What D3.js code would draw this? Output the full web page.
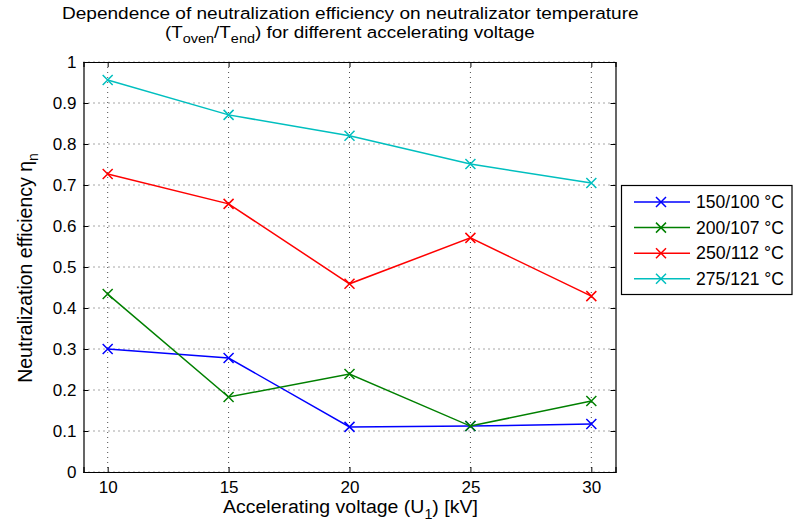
<!DOCTYPE html>
<html><head><meta charset="utf-8">
<script src="https://cdn.jsdelivr.net/npm/d3@7"></script>
<style>body{margin:0;background:#fff}svg{font-family:"Liberation Sans",Arial,sans-serif}</style>
</head><body><svg id="c" width="793" height="523"></svg>
<script>
const voltages = [10, 15, 20, 25, 30];
const s150 = [0.300, 0.278, 0.110, 0.112, 0.117];
const s200 = [0.434, 0.183, 0.239, 0.112, 0.173];
const s250 = [0.727, 0.654, 0.459, 0.571, 0.429];
const s275 = [0.956, 0.871, 0.820, 0.751, 0.705];
const seriesNames = ["150/100 °C", "200/107 °C", "250/112 °C", "275/121 °C"];
const seriesColors = ["#0000ff", "#008000", "#ff0000", "#00bfbf"];
const yTicks = [0, 0.1, 0.2, 0.3, 0.4, 0.5, 0.6, 0.7, 0.8, 0.9, 1];
const yTickLabels = ["0", "0.1", "0.2", "0.3", "0.4", "0.5", "0.6", "0.7", "0.8", "0.9", "1"];

const series = [s150, s200, s250, s275];
const svg = d3.select("#c");
const L = 83.5, R = 615.5, T = 62, B = 472;
const x = d3.scaleLinear().domain([9, 31]).range([L, R]);
const y = d3.scaleLinear().domain([0, 1]).range([B, T]);

// grid
const g = svg.append("g");
g.selectAll(".gx").data(voltages).enter().append("line")
  .attr("x1", d => x(d)).attr("x2", d => x(d)).attr("y1", T).attr("y2", B)
  .attr("stroke", "#000").attr("stroke-width", 0.7).attr("stroke-dasharray", "1,4");
g.selectAll(".gy").data(yTicks).enter().append("line")
  .attr("y1", d => y(d)).attr("y2", d => y(d)).attr("x1", L).attr("x2", R)
  .attr("stroke", "#000").attr("stroke-width", 0.7).attr("stroke-dasharray", "1,4");

// axes
const fs = 17;
const xb = svg.append("g").attr("transform", `translate(0,${B})`)
  .call(d3.axisBottom(x).tickValues(voltages).tickSize(-5).tickPadding(9).tickFormat(d3.format("d")));
const xt = svg.append("g").attr("transform", `translate(0,${T})`)
  .call(d3.axisTop(x).tickValues(voltages).tickSize(-5).tickFormat(""));
const yl = svg.append("g").attr("transform", `translate(${L},0)`)
  .call(d3.axisLeft(y).tickValues(yTicks).tickSize(-5).tickPadding(7).tickFormat((d,i) => yTickLabels[i]));
const yr = svg.append("g").attr("transform", `translate(${R},0)`)
  .call(d3.axisRight(y).tickValues(yTicks).tickSize(-5).tickFormat(""));
[xb, xt, yl, yr].forEach(a => {
  a.select(".domain").attr("stroke", "#000").attr("stroke-width", 1.2);
  a.selectAll(".tick line").attr("stroke", "#000").attr("stroke-width", 1);
  a.selectAll("text").attr("font-size", fs).attr("fill", "#000").attr("font-family", "Liberation Sans, Arial, sans-serif");
});

// lines
const line = d3.line().x((d, i) => x(voltages[i])).y(d => y(d));
series.forEach((s, k) => {
  svg.append("path").attr("d", line(s)).attr("fill", "none")
    .attr("stroke", seriesColors[k]).attr("stroke-width", 1.5);
  svg.selectAll(null).data(s).enter().append("path")
    .attr("d", (d, i) => { const cx = x(voltages[i]), cy = y(d), r = 5;
      return `M${cx-r},${cy-r}L${cx+r},${cy+r}M${cx-r},${cy+r}L${cx+r},${cy-r}`; })
    .attr("stroke", seriesColors[k]).attr("stroke-width", 1.5);
});

// helper: fit text horizontally to span x0..x1
function fitX(sel, x0, x1) {
  const bb = sel.node().getBBox();
  const sx = (x1 - x0) / bb.width;
  sel.attr("transform", `translate(${x0},0) scale(${sx},1) translate(${-bb.x},0)`);
}

// title
const t1 = svg.append("text").attr("x", 0).attr("y", 19.5).attr("font-size", 17).attr("fill", "#000")
  .text("Dependence of neutralization efficiency on neutralizator temperature");
fitX(t1, 62, 639);
const t2 = svg.append("text").attr("x", 0).attr("y", 38.5).attr("font-size", 17).attr("fill", "#000");
t2.append("tspan").text("(T");
t2.append("tspan").attr("font-size", 13).attr("dy", 5).text("oven");
t2.append("tspan").attr("dy", -5).text("/T");
t2.append("tspan").attr("font-size", 13).attr("dy", 5).text("end");
t2.append("tspan").attr("dy", -5).text(") for different accelerating voltage");
fitX(t2, 165, 535);

// x label
const xlab = svg.append("text").attr("x", 0).attr("y", 513).attr("font-size", 19).attr("fill", "#000");
xlab.append("tspan").text("Accelerating voltage (U");
xlab.append("tspan").attr("font-size", 14).attr("dy", 6).text("1");
xlab.append("tspan").attr("dy", -6).text(") [kV]");
fitX(xlab, 223, 478);

// y label
const ylab = svg.append("text").attr("transform", "translate(32,268) rotate(-90)").attr("text-anchor", "middle").attr("font-size", 19).attr("fill", "#000");
ylab.append("tspan").text("Neutralization efficiency η");
ylab.append("tspan").attr("font-size", 14).attr("dy", 6).text("n");
{
  const w = ylab.node().getBBox().width;
  ylab.attr("font-size", 19 * 230 / w);
}

// legend
const lg = svg.append("g");
lg.append("rect").attr("x", 621.5).attr("y", 185.5).attr("width", 170.5).attr("height", 109)
  .attr("fill", "#fff").attr("stroke", "#000").attr("stroke-width", 1.2);
seriesNames.forEach((n, k) => {
  const ly = 202 + k * 25.6;
  lg.append("line").attr("x1", 634).attr("x2", 690).attr("y1", ly).attr("y2", ly)
    .attr("stroke", seriesColors[k]).attr("stroke-width", 1.5);
  const cx = 661, r = 5;
  lg.append("path").attr("d", `M${cx-r},${ly-r}L${cx+r},${ly+r}M${cx-r},${ly+r}L${cx+r},${ly-r}`)
    .attr("stroke", seriesColors[k]).attr("stroke-width", 1.5);
  const t = lg.append("text").attr("x", 0).attr("y", ly + 6).attr("font-size", 17.5).attr("fill", "#000").text(n);
  fitX(t, 696, 784);
});
</script></body></html>
